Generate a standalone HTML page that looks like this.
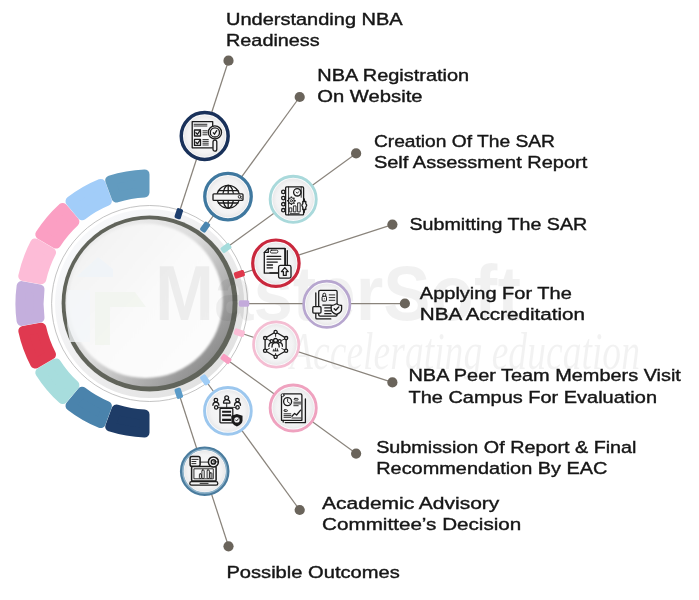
<!DOCTYPE html>
<html lang="en"><head><meta charset="utf-8"><title>NBA Accreditation Process</title>
<style>
html,body{margin:0;padding:0;background:#fff}
body{width:699px;height:600px;overflow:hidden}
svg{display:block}
.lbl{font-family:"Liberation Sans","DejaVu Sans",sans-serif;font-size:17.2px;fill:#161616;stroke:#161616;stroke-width:.4px}
.wm{font-family:"Liberation Sans",sans-serif;font-weight:bold;fill:#000;fill-opacity:.054}
.wm2{font-family:"Liberation Serif","DejaVu Serif",serif;font-style:italic;fill:#000;fill-opacity:.05}
.ic{fill:none;stroke:#1b1b1b;stroke-width:1.3;stroke-linecap:round;stroke-linejoin:round}
.icf{fill:#1b1b1b;stroke:none}
.icw{fill:#f4f4f5;stroke:#1b1b1b;stroke-width:1.3;stroke-linejoin:round;stroke-linecap:round}
.th{stroke-width:.9}
</style></head><body>
<svg width="699" height="600" viewBox="0 0 699 600" style="opacity:.999">
<defs>
<radialGradient id="disc" cx="50%" cy="50%" r="50%">
<stop offset="0" stop-color="#fbfbfb"/><stop offset=".8" stop-color="#f3f3f4"/><stop offset="1" stop-color="#e9e9ea"/>
</radialGradient>
<linearGradient id="shade" gradientUnits="userSpaceOnUse" x1="88" y1="250" x2="211" y2="357">
<stop offset="0" stop-color="#ececec"/><stop offset=".45" stop-color="#dcdcdc"/><stop offset=".7" stop-color="#bababa"/><stop offset="1" stop-color="#909090"/>
</linearGradient>
<linearGradient id="discfill" gradientUnits="userSpaceOnUse" x1="88" y1="250" x2="211" y2="357">
<stop offset="0" stop-color="#f3f3f3"/><stop offset=".5" stop-color="#fafafa"/><stop offset="1" stop-color="#fdfdfd"/>
</linearGradient>
<linearGradient id="band" x1="0.15" y1="0.15" x2="0.85" y2="0.85">
<stop offset="0" stop-color="#f7f8fa"/><stop offset=".5" stop-color="#eeeeef"/><stop offset="1" stop-color="#e2e2e2"/>
</linearGradient>
<radialGradient id="white" cx="50%" cy="50%" r="50%">
<stop offset="0" stop-color="#fdfdfd"/><stop offset=".9" stop-color="#fafafa"/><stop offset="1" stop-color="#f1f1f1" />
</radialGradient>
<filter id="blur1" x="-20%" y="-20%" width="140%" height="140%"><feGaussianBlur stdDeviation="2.2"/></filter>
<filter id="blur2" x="-20%" y="-20%" width="140%" height="140%"><feGaussianBlur stdDeviation="1.3"/></filter>
</defs>
<rect width="699" height="600" fill="#ffffff"/>

<path d="M110.2 426.6A129.2 129.2 0 0 0 144.5 432.6L144.5 414.4A111.0 111.0 0 0 1 116.5 409.4Z" fill="#1e3c67" stroke="#1e3c67" stroke-width="10.0" stroke-linejoin="round"/>
<path d="M70.5 405.7A129.2 129.2 0 0 0 100.7 423.1L106.9 406.0A111.0 111.0 0 0 1 82.2 391.7Z" fill="#4a83ac" stroke="#4a83ac" stroke-width="10.0" stroke-linejoin="round"/>
<path d="M40.3 372.5A129.2 129.2 0 0 0 62.7 399.1L74.4 385.2A111.0 111.0 0 0 1 56.1 363.4Z" fill="#a7dddd" stroke="#a7dddd" stroke-width="10.0" stroke-linejoin="round"/>
<path d="M23.3 330.9A129.2 129.2 0 0 0 35.2 363.6L51.0 354.5A111.0 111.0 0 0 1 41.3 327.8Z" fill="#e03950" stroke="#e03950" stroke-width="10.0" stroke-linejoin="round"/>
<path d="M21.6 286.1A129.2 129.2 0 0 0 21.6 320.9L39.5 317.7A111.0 111.0 0 0 1 39.5 289.3Z" fill="#c4afdd" stroke="#c4afdd" stroke-width="10.0" stroke-linejoin="round"/>
<path d="M35.2 243.4A129.2 129.2 0 0 0 23.3 276.1L41.3 279.2A111.0 111.0 0 0 1 51.0 252.5Z" fill="#fdbcd7" stroke="#fdbcd7" stroke-width="10.0" stroke-linejoin="round"/>
<path d="M62.7 207.9A129.2 129.2 0 0 0 40.3 234.5L56.1 243.6A111.0 111.0 0 0 1 74.4 221.8Z" fill="#fb9fc3" stroke="#fb9fc3" stroke-width="10.0" stroke-linejoin="round"/>
<path d="M100.7 183.9A129.2 129.2 0 0 0 70.5 201.3L82.2 215.3A111.0 111.0 0 0 1 106.9 201.0Z" fill="#a2cdf9" stroke="#a2cdf9" stroke-width="10.0" stroke-linejoin="round"/>
<path d="M144.5 174.4A129.2 129.2 0 0 0 110.2 180.4L116.5 197.6A111.0 111.0 0 0 1 144.5 192.6Z" fill="#629bbf" stroke="#629bbf" stroke-width="10.0" stroke-linejoin="round"/>
<circle cx="149.6" cy="303.5" r="98" fill="#fff" stroke="#b4b4b4" stroke-width=".8"/>
<circle cx="149.6" cy="303.5" r="91.3" fill="none" stroke="url(#band)" stroke-width="6.6"/>
<circle cx="149.6" cy="303.5" r="88" fill="#61645b"/>
<circle cx="149.0" cy="302.9" r="83.6" fill="url(#shade)"/>
<circle cx="145.6" cy="300.9" r="77.2" fill="url(#discfill)" filter="url(#blur2)"/>
<g opacity=".75"><path d="M76 277l22-20 15 12v8z" fill="#eff4f9"/><path d="M95 292h40l11 15h-36v38h-15z" fill="#f1f5ee"/><path d="M68 290h22v52h-20q-6-26-2-52z" fill="#f4f7fa"/></g>
<text class="wm" x="155" y="320" font-size="77" textLength="366" lengthAdjust="spacingAndGlyphs">MasterSoft</text>
<text class="wm2" x="290" y="369" font-size="52" textLength="350" lengthAdjust="spacingAndGlyphs">Accelerating education</text>
<line x1="179.6" y1="211.2" x2="228.5" y2="60.7" stroke="#8a847c" stroke-width="1.25"/>
<line x1="206.6" y1="225.0" x2="299.7" y2="97.0" stroke="#8a847c" stroke-width="1.25"/>
<line x1="228.1" y1="246.5" x2="356.1" y2="153.4" stroke="#8a847c" stroke-width="1.25"/>
<line x1="241.9" y1="273.5" x2="392.4" y2="224.6" stroke="#8a847c" stroke-width="1.25"/>
<line x1="246.6" y1="303.5" x2="404.9" y2="303.5" stroke="#8a847c" stroke-width="1.25"/>
<line x1="241.9" y1="333.5" x2="392.4" y2="382.4" stroke="#8a847c" stroke-width="1.25"/>
<line x1="228.1" y1="360.5" x2="356.1" y2="453.6" stroke="#8a847c" stroke-width="1.25"/>
<line x1="206.6" y1="382.0" x2="299.7" y2="510.0" stroke="#8a847c" stroke-width="1.25"/>
<line x1="179.6" y1="395.8" x2="228.5" y2="546.3" stroke="#8a847c" stroke-width="1.25"/>
<circle cx="228.5" cy="60.7" r="5.1" fill="#6a645b"/>
<circle cx="299.7" cy="97.0" r="5.1" fill="#6a645b"/>
<circle cx="356.1" cy="153.4" r="5.1" fill="#6a645b"/>
<circle cx="392.4" cy="224.6" r="5.1" fill="#6a645b"/>
<circle cx="404.9" cy="303.5" r="5.1" fill="#6a645b"/>
<circle cx="392.4" cy="382.4" r="5.1" fill="#6a645b"/>
<circle cx="356.1" cy="453.6" r="5.1" fill="#6a645b"/>
<circle cx="299.7" cy="510.0" r="5.1" fill="#6a645b"/>
<circle cx="228.5" cy="546.3" r="5.1" fill="#6a645b"/>
<rect x="-5.3" y="-3.25" width="10.6" height="6.5" rx="1.7" fill="#1d3e6d" transform="translate(178.8 213.7) rotate(-72)"/>
<rect x="-5.3" y="-3.25" width="10.6" height="6.5" rx="1.7" fill="#4a86b0" transform="translate(205.1 227.1) rotate(-54)"/>
<rect x="-5.3" y="-3.25" width="10.6" height="6.5" rx="1.7" fill="#a5dcdc" transform="translate(226.0 248.0) rotate(-36)"/>
<rect x="-5.3" y="-3.25" width="10.6" height="6.5" rx="1.7" fill="#e0384c" transform="translate(239.4 274.3) rotate(-18)"/>
<rect x="-5.3" y="-3.25" width="10.6" height="6.5" rx="1.7" fill="#c3aadb" transform="translate(244.0 303.5) rotate(0)"/>
<rect x="-5.3" y="-3.25" width="10.6" height="6.5" rx="1.7" fill="#fbbdd6" transform="translate(239.4 332.7) rotate(18)"/>
<rect x="-5.3" y="-3.25" width="10.6" height="6.5" rx="1.7" fill="#f99ec2" transform="translate(226.0 359.0) rotate(36)"/>
<rect x="-5.3" y="-3.25" width="10.6" height="6.5" rx="1.7" fill="#a0cdf6" transform="translate(205.1 379.9) rotate(54)"/>
<rect x="-5.3" y="-3.25" width="10.6" height="6.5" rx="1.7" fill="#5b9bc8" transform="translate(178.8 393.3) rotate(72)"/>
<g transform="translate(204.7 136.0)">
<circle r="23.45" fill="#fbfbfc" stroke="#19315a" stroke-width="3.5"/>
<circle r="20.80" fill="url(#disc)"/>
<g class="ic">
<path d="M8 -9.6V-14.4H-12.5V11.8H7.6"/>
<path class="th" d="M-10.6 -11.7H2.2M-10.6 -10H2.2"/>
<rect x="-10.2" y="-6" width="6" height="6"/><path d="M-8.8 -3.2l1.5 1.6 3-4.2"/>
<path class="th" d="M-1.8 -5.2H2.4M-1.8 -3.2H2.4M-1.8 -1.2H2.4"/>
<rect x="-10.2" y="3.4" width="6" height="6"/><path d="M-8.8 6.2l1.5 1.6 3-4.2"/>
<path class="th" d="M-1.8 3.6H3.6M-1.8 5.4H3.6M-1.8 7.2H3.6M-1.8 9H3.6"/>
<circle cx="10.2" cy="-3.6" r="6.6"/><circle cx="10.2" cy="-3.6" r="4.6"/>
<path d="M8.6 -3.2l1.2 1.4 2.2-3.6"/>
<rect x="8.3" y="4.2" width="3.8" height="11" rx="1.9"/>
</g>
</g>
<g transform="translate(228.0 196.6)">
<circle r="23.25" fill="#fbfbfc" stroke="#3f789f" stroke-width="3.3"/>
<circle r="20.70" fill="url(#disc)"/>
<g class="ic">
<circle cx="0.2" cy="0.2" r="11.4"/>
<ellipse cx="0.2" cy="0.2" rx="5.4" ry="11.4"/>
<path d="M0.2 -11.2V11.6M-9.6 -6H10M-9.6 6.4H10"/>
<rect class="icw" x="-15" y="-2.8" width="30" height="6.6" rx="1"/>
<circle class="th" cx="11.6" cy="0.2" r="1.4"/><path class="th" d="M12.6 1.3l1.2 1.2"/>
</g>
</g>
<g transform="translate(293.2 199.3)">
<circle r="23.05" fill="#fbfbfc" stroke="#a9d9db" stroke-width="2.9"/>
<circle r="20.70" fill="url(#disc)"/>
<g class="ic">
<rect x="-7.6" y="-12.4" width="18" height="28" rx="1"/>
<path class="th" d="M-4.6 -12.4V15.6M8 -12.4V-2"/>
<circle cx="-9.9" cy="-7.4" r="1.7"/><circle cx="-9.9" cy="-1.2" r="1.7"/><circle cx="-9.9" cy="4.9" r="1.7"/><circle cx="-9.9" cy="10.9" r="1.7"/>
<circle cx="4.1" cy="-7" r="3.7"/><path class="th" d="M3 -7.2l1.1 1.2 1.4-1.6"/>
<circle cx="-1.8" cy="1.4" r="3" stroke-width="1"/><path d="M1.20 1.40L2.50 1.40M0.32 3.52L1.24 4.44M-1.80 4.40L-1.80 5.70M-3.92 3.52L-4.84 4.44M-4.80 1.40L-6.10 1.40M-3.92 -0.72L-4.84 -1.64M-1.80 -1.60L-1.80 -2.90M0.32 -0.72L1.24 -1.64" stroke-width="1.5" stroke-linecap="butt"/><circle cx="-1.8" cy="1.4" r="1.1" class="th"/>
<rect class="th" x="-3.6" y="8.6" width="2.2" height="4"/><rect class="th" x="0.6" y="6.6" width="2.2" height="6"/><rect class="th" x="4.8" y="3.6" width="2.2" height="9"/>
<path class="th" d="M-3 14.4H6"/>
<path d="M11.1 -0.4V2.2M11.1 10.4V13"/><path class="icw" d="M9.6 2.2h3v2.2q1.8 1.6 0 3.4v2.4h-3v-2.4q-1.8-1.8 0-3.4z"/>
</g>
</g>
<g transform="translate(275.9 263.2)">
<circle r="23.20" fill="#fbfbfc" stroke="#c9283d" stroke-width="3.2"/>
<circle r="20.70" fill="url(#disc)"/>
<g class="ic">
<path d="M-7.4 -14.6H9.4V7.6" /><path d="M11.4 -12.6V9.6H-6"/>
<path d="M-7.6 -14.8H9V10H-11.6V-10.8Z"/><path d="M-7.6 -14.8V-10.8H-11.6"/>
<rect class="th" x="-5.6" y="-13" width="7.6" height="2.8" rx="1.4"/>
<path d="M-8.8 -6.8H4.8M-8.8 -4H4.8" stroke-width="1.3"/><path d="M-8.8 -1.1H1.4M-8.8 1.8H-3.4M-8.8 4.6H-3.4" stroke-width="1.3"/>
<rect class="icw" x="2.7" y="2.2" width="12.4" height="12.8" rx="1.8"/>
<path class="icw" d="M8.9 4.4l3.4 4h-2v3.8h-2.8v-3.8h-2z"/>
</g>
</g>
<g transform="translate(326.8 304.3)">
<circle r="23.15" fill="#fbfbfc" stroke="#b7a6cf" stroke-width="2.7"/>
<circle r="20.90" fill="url(#disc)"/>
<g class="ic">
<path d="M-11 -11.4V13.4Q-11 14.6 -9.8 14.6H4"/>
<rect class="icw" x="-8.1" y="-14" width="18.4" height="25.8" rx="1.4"/>
<rect x="-4.7" y="-8" width="4.4" height="4.8" rx=".9" stroke-width="1"/><path d="M-3.9 -8v-1.7a1.4 1.4 0 0 1 2.8 0v1.7" stroke-width="1"/><circle cx="-2.5" cy="-5.600" r=".5" class="icf"/>
<path d="M2.4 -9.4H8M2.4 -6.7H8M2.4 -4H8" class="th"/>
<path d="M-4 0.8H4.2M-2 3.6H4.2M-2 6.5H4.2M-2 9.4H4.2"/>
<rect class="icw" x="-14" y="2.4" width="8.2" height="6.4" rx="1"/>
<path class="icw" d="M9.600 -0.500q2.600 1.700 5.200 1.700v3.400q0 3.600-5.200 5.400q-5.200-1.800-5.200-5.400v-3.400q2.600 0 5.200-1.700z"/>
<path d="M7.400 4.400l1.600 1.600 3-3.400" stroke-width="1.400"/>
</g>
</g>
<g transform="translate(276.2 344.5)">
<circle r="22.65" fill="#fbfbfc" stroke="#f4bdd2" stroke-width="2.7"/>
<circle r="20.40" fill="url(#disc)"/>
<g class="ic">
<path d="M-0.600 -12.500L-11.100 -6.400V6.200L-0.600 12.300L9.900 6.200V-6.400Z"/>
<path class="th" d="M-0.600 -12.500V-8M-11.100 -6.400L-6.500 -4M9.900 -6.400L5.400 -4M-11.100 6.200L-6.800 4M9.900 6.200L5.600 4M-0.600 12.300V9"/>
<circle class="icw" cx="-0.600" cy="-12.500" r="1.600"/><circle class="icw" cx="-11.100" cy="-6.400" r="1.600"/><circle class="icw" cx="-11.100" cy="6.200" r="1.600"/><circle class="icw" cx="-0.600" cy="12.300" r="1.600"/><circle class="icw" cx="9.900" cy="6.200" r="1.600"/><circle class="icw" cx="9.900" cy="-6.400" r="1.600"/>
<circle cx="-0.600" cy="-4" r="2"/><path d="M-4.200 2.600q0-4.600 3.600-4.600q3.600 0 3.600 4.600"/>
<circle cx="-4.600" cy="-3.400" r="1.500"/><path d="M-7.400 1.800q0-3.600 2.600-3.600"/>
<circle cx="3.400" cy="-3.400" r="1.500"/><path d="M6.200 1.800q0-3.600-2.600-3.600"/>
<path class="th" d="M-3.200 6.400H2M-2.400 6.200v-1.400M-0.600 6.200v-2.400M1.200 6.200v-1.800"/>
</g>
</g>
<g transform="translate(293.2 408.0)">
<circle r="23.05" fill="#fbfbfc" stroke="#efa2bf" stroke-width="2.9"/>
<circle r="20.70" fill="url(#disc)"/>
<g class="ic">
<path d="M-8 14.600H12.200V-9"/><path d="M-10 12.400V14"/>
<path d="M-9.400 -14.200H7.200Q8.700 -14.200 8.700 -12.700V12.300H-11.700V-11.500"/>
<circle cx="-10.600" cy="-12.800" r="1.500" class="th"/>
<circle cx="-5.600" cy="-6.400" r="4"/><path class="th" d="M-5.600 -9v2.800l2 1.400"/>
<rect class="th" x="1" y="-9.600" width="4" height="1.700" rx=".85"/><path class="th" d="M0.600 -5.800H7.400M0.600 -4.100H7.400M0.600 -2.300H5"/>
<rect class="th" x="-9.200" y="1.800" width="3.400" height="1.700" rx=".85"/><path class="th" d="M-9.200 5.800H-2.400M-9.200 7.600H-2.400M-9.200 9.300H-2.400"/>
<path d="M-1.200 8.200l2.600-2.800 2 1.600 4-4.800"/><path class="th" d="M-1.200 10H7.600"/>
</g>
</g>
<g transform="translate(227.9 410.9)">
<circle r="23.35" fill="#fbfbfc" stroke="#9cc7ee" stroke-width="2.9"/>
<circle r="21.00" fill="url(#disc)"/>
<g class="ic">
<circle cx="-1.200" cy="-13.100" r="1.900"/><path d="M-4.400 -7.800q0-3.400 3.200-3.400q3.200 0 3.200 3.400Z"/>
<circle cx="-12" cy="-10.800" r="1.800"/><path d="M-15 -5.600q0-3.200 3-3.200q3 0 3 3.200"/>
<circle cx="9.600" cy="-10.800" r="1.800"/><path d="M6.600 -5.600q0-3.200 3-3.200q3 0 3 3.200"/>
<circle cx="-11.700" cy="-3.500" r="1.700"/><circle cx="9.600" cy="-3.500" r="1.700"/>
<path class="th" d="M-10 -3.500H8M-1.200 -7.800V-3.500"/>
<rect class="icw" x="-7.900" y="-2.600" width="12.800" height="14.500" rx=".8"/>
<path d="M-5.800 0.900H3.200M-5.800 4.400H3.200M-5.800 9H3.200" stroke-width="2.100" stroke-linecap="butt"/>
<path class="icf" d="M9 3l5.600 1.800v4.600q0 4-5.600 6.200q-5.600-2.200-5.600-6.200v-4.600z"/>
<circle cx="9" cy="9" r="2.700" fill="#f4f4f5" stroke="none"/><path d="M7.700 9l1 1.100 1.800-2.200" class="th"/>
</g>
</g>
<g transform="translate(204.7 471.2)">
<circle r="23.15" fill="#fbfbfc" stroke="#4a7c9e" stroke-width="3.3"/>
<circle r="21.85" fill="none" stroke="#8fb3ca" stroke-width="1.5"/>
<circle r="20.60" fill="url(#disc)"/>
<g class="ic" style="stroke-width:1.5">
<rect x="-13.100" y="-4.700" width="24.500" height="14.600" rx="1"/>
<rect class="icw" x="-14.900" y="10.500" width="28" height="3.500" rx="1.700"/><path class="th" d="M-4.600 12.200H3.400"/>
<rect x="-10.400" y="-2.400" width="19" height="10" class="th"/>
<rect class="th" x="-5.3" y="2.6" width="2" height="4.6" rx=".8"/><rect class="th" x="-2.8" y="-1.2" width="2.3" height="8.400" rx=".8"/><rect class="th" x="2.4" y="-1.2" width="2.3" height="8.400" rx=".8"/><rect class="th" x="5.200" y="1.6" width="2" height="5.600" rx=".8"/>
<rect class="icw" x="-14.600" y="-14.600" width="10" height="9.700" rx="1.800" style="stroke-width:1.5"/>
<path class="th" d="M-12.800 -11.800H-6.600M-12.800 -9.700H-8.800M-12.800 -7.600H-8.800"/>
<path class="th" d="M-4.600 -9.100H4"/>
<circle class="icw" cx="8.700" cy="-9.300" r="5" style="stroke-width:1.5"/><circle cx="8.700" cy="-9.300" r="2.1"/><path class="th" d="M8.700 -9.300H13.400"/>
</g>
</g>
<text class="lbl" x="226.0" y="25.2" textLength="176.7" lengthAdjust="spacingAndGlyphs">Understanding NBA</text>
<text class="lbl" x="226.0" y="45.8" textLength="93.7" lengthAdjust="spacingAndGlyphs">Readiness</text>
<text class="lbl" x="317.3" y="81.0" textLength="151.9" lengthAdjust="spacingAndGlyphs">NBA Registration</text>
<text class="lbl" x="317.3" y="102.2" textLength="105.2" lengthAdjust="spacingAndGlyphs">On Website</text>
<text class="lbl" x="373.9" y="146.6" textLength="181.1" lengthAdjust="spacingAndGlyphs">Creation Of The SAR</text>
<text class="lbl" x="373.9" y="167.5" textLength="213.4" lengthAdjust="spacingAndGlyphs">Self Assessment Report</text>
<text class="lbl" x="409.4" y="229.7" textLength="177.9" lengthAdjust="spacingAndGlyphs">Submitting The SAR</text>
<text class="lbl" x="419.8" y="299.0" textLength="152.0" lengthAdjust="spacingAndGlyphs">Applying For The</text>
<text class="lbl" x="419.8" y="319.6" textLength="165.2" lengthAdjust="spacingAndGlyphs">NBA Accreditation</text>
<text class="lbl" x="408.5" y="381.2" textLength="272.4" lengthAdjust="spacingAndGlyphs">NBA Peer Team Members Visit</text>
<text class="lbl" x="408.5" y="403.1" textLength="248.5" lengthAdjust="spacingAndGlyphs">The Campus For Evaluation</text>
<text class="lbl" x="376.2" y="452.7" textLength="260.3" lengthAdjust="spacingAndGlyphs">Submission Of Report &amp; Final</text>
<text class="lbl" x="376.2" y="473.5" textLength="231.3" lengthAdjust="spacingAndGlyphs">Recommendation By EAC</text>
<text class="lbl" x="322.1" y="509.4" textLength="177.2" lengthAdjust="spacingAndGlyphs">Academic Advisory</text>
<text class="lbl" x="322.1" y="530.2" textLength="199.2" lengthAdjust="spacingAndGlyphs">Committee’s Decision</text>
<text class="lbl" x="226.4" y="578.1" textLength="173.4" lengthAdjust="spacingAndGlyphs">Possible Outcomes</text>
</svg></body></html>
